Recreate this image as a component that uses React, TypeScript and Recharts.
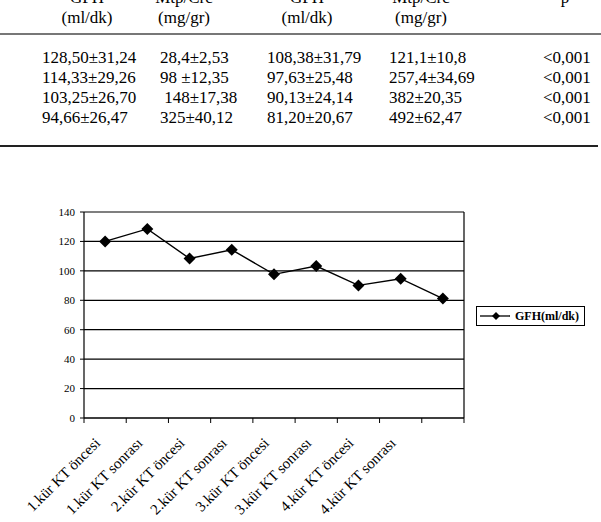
import React from 'react'
import {
  LineChart,
  Line,
  XAxis,
  YAxis,
  CartesianGrid,
  Legend,
} from 'recharts'

// table above the chart
const headNames = ['GFH', 'Mtp/Crc', 'GFH', 'Mtp/Crc', 'p']
const headUnits = ['(ml/dk)', '(mg/gr)', '(ml/dk)', '(mg/gr)', '']
const tableRows = [
  ['128,50±31,24', '28,4±2,53', '108,38±31,79', '121,1±10,8', '<0,001'],
  ['114,33±29,26', '98 ±12,35', '97,63±25,48', '257,4±34,69', '<0,001'],
  ['103,25±26,70', ' 148±17,38', '90,13±24,14', '382±20,35', '<0,001'],
  ['94,66±26,47', '325±40,12', '81,20±20,67', '492±62,47', '<0,001'],
]
const headCenters = [87, 184, 307, 421, 565]
const colLefts = [42, 160, 267, 389, 543]

// chart data
const categories = [
  '1.kür KT öncesi',
  '1.kür KT sonrası',
  '2.kür KT öncesi',
  '2.kür KT sonrası',
  '3.kür KT öncesi',
  '3.kür KT sonrası',
  '4.kür KT öncesi',
  '4.kür KT sonrası',
  '',
]
const gfh = [120, 128.5, 108.38, 114.33, 97.63, 103.25, 90.13, 94.66, 81.2]
const yTicks = [0, 20, 40, 60, 80, 100, 120, 140]

const data = categories.map((label, i) => ({ label, gfh: gfh[i] }))

const CHART_W = 601
const LEFT_AXIS_W = 84
const RIGHT_AXIS_W = 137
const BAND = (CHART_W - LEFT_AXIS_W - RIGHT_AXIS_W) / categories.length

const serif = '"Liberation Serif", "Times New Roman", serif'

function CategoryTick(props: any) {
  const { x, y, payload, index } = props
  const half = BAND / 2
  const ax = x - 4
  const ay = y + 26
  return (
    <g>
      <line x1={x - half} y1={y} x2={x - half} y2={y + 5} stroke="#000" />
      {index === categories.length - 1 && (
        <line x1={x + half} y1={y} x2={x + half} y2={y + 5} stroke="#000" />
      )}
      <text
        x={ax}
        y={ay}
        transform={`rotate(-45 ${ax} ${ay})`}
        textAnchor="end"
        fontSize={15}
        fill="#000"
      >
        {payload.value}
      </text>
    </g>
  )
}

function Diamond(props: any) {
  const { cx, cy } = props
  if (cx == null || cy == null) return null
  const r = 6
  return (
    <polygon
      points={`${cx},${cy - r} ${cx + r},${cy} ${cx},${cy + r} ${cx - r},${cy}`}
      fill="#000"
    />
  )
}

function LegendBox(props: any) {
  const item = props.payload && props.payload[0]
  return (
    <div
      style={{
        display: 'inline-flex',
        alignItems: 'center',
        border: '1px solid #000',
        padding: '2px 5px 2px 3px',
        background: '#fff',
        lineHeight: '14px',
      }}
    >
      <svg width={30} height={10}>
        <line x1={0} y1={5} x2={30} y2={5} stroke="#000" strokeWidth={1.3} />
        <polygon points="16,1 20,5 16,9 12,5" fill="#000" />
      </svg>
      <span style={{ fontWeight: 'bold', fontSize: 12, marginLeft: 5 }}>
        {item ? item.value : ''}
      </span>
    </div>
  )
}

export default function App() {
  return (
    <div
      style={{
        position: 'absolute',
        left: 0,
        top: 0,
        width: 601,
        height: 522,
        background: '#fff',
        overflow: 'hidden',
        fontFamily: serif,
        color: '#000',
      }}
    >
      {headNames.map((t, i) => (
        <div
          key={'h' + i}
          style={{ position: 'absolute', top: -12, left: headCenters[i] - 50, width: 100, textAlign: 'center', fontSize: 17, lineHeight: '20px' }}
        >
          {t}
        </div>
      ))}
      {headUnits.map((t, i) => (
        <div
          key={'u' + i}
          style={{ position: 'absolute', top: 8, left: headCenters[i] - 50, width: 100, textAlign: 'center', fontSize: 17, lineHeight: '20px' }}
        >
          {t}
        </div>
      ))}
      <div style={{ position: 'absolute', top: 33, left: 0, width: 601, height: 2, background: '#777' }} />
      {tableRows.map((row, r) =>
        row.map((t, c) => (
          <div
            key={r + '-' + c}
            style={{
              position: 'absolute',
              top: 48 + r * 20,
              left: colLefts[c],
              fontSize: 17,
              lineHeight: '20px',
              whiteSpace: 'pre',
            }}
          >
            {t}
          </div>
        ))
      )}
      <div style={{ position: 'absolute', top: 145, left: 0, width: 598, height: 2, background: '#222' }} />

      <div style={{ position: 'absolute', top: 195, left: 0 }}>
        <LineChart
          width={CHART_W}
          height={327}
          data={data}
          margin={{ top: 17, right: 0, bottom: 0, left: 0 }}
        >
          <CartesianGrid
            yAxisId="left"
            horizontal
            vertical={false}
            stroke="#000"
            strokeWidth={1.2}
          />
          <XAxis
            dataKey="label"
            interval={0}
            padding={{ left: BAND / 2, right: BAND / 2 }}
            tickLine={false}
            tickSize={0}
            tickMargin={0}
            axisLine={{ stroke: '#000', strokeWidth: 1.2 }}
            height={104}
            tick={<CategoryTick />}
          />
          <YAxis
            yAxisId="left"
            domain={[0, 140]}
            ticks={yTicks}
            width={LEFT_AXIS_W}
            tickSize={4}
            tickMargin={5}
            axisLine={{ stroke: '#000', strokeWidth: 1.2 }}
            tickLine={{ stroke: '#000' }}
            tick={{ fontSize: 11, fill: '#000' }}
          />
          <YAxis
            yAxisId="right"
            orientation="right"
            domain={[0, 140]}
            width={RIGHT_AXIS_W}
            tick={false}
            tickLine={false}
            axisLine={{ stroke: '#000', strokeWidth: 1.2 }}
          />
          <Line
            yAxisId="left"
            dataKey="gfh"
            name="GFH(ml/dk)"
            stroke="#000"
            strokeWidth={1.4}
            dot={<Diamond />}
            activeDot={false}
            isAnimationActive={false}
          />
          <Legend
            layout="horizontal"
            verticalAlign="middle"
            align="center"
            wrapperStyle={{ left: 476, top: 111, width: 'auto' }}
            content={<LegendBox />}
          />
        </LineChart>
      </div>
    </div>
  )
}
